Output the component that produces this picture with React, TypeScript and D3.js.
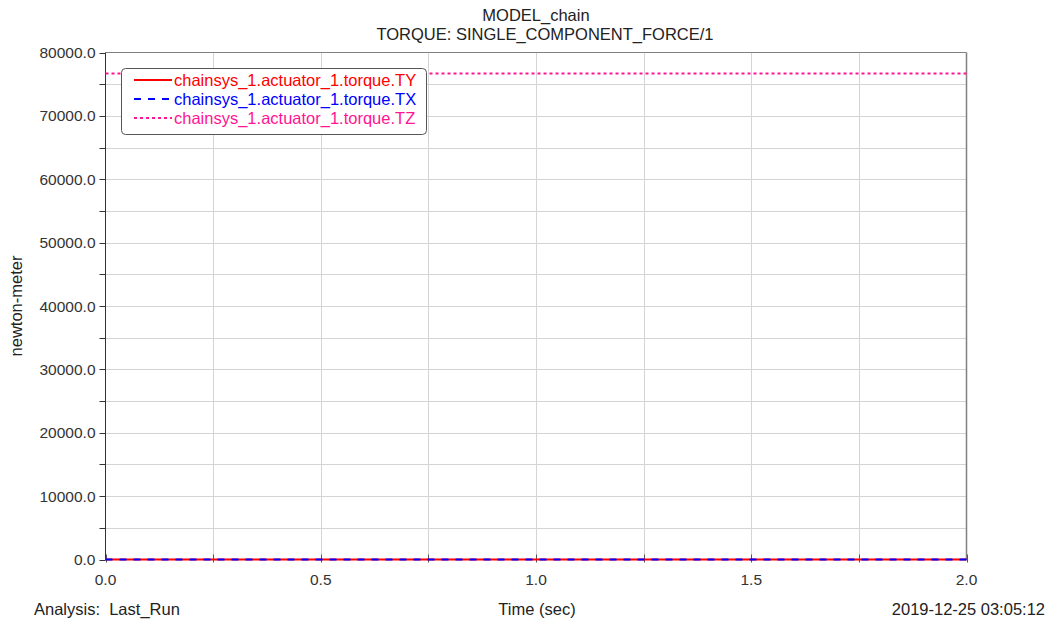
import React, { useEffect, useRef } from "react";
import * as d3 from "d3";

// time samples (sec) and torque components (newton-meter)
const times = [0, 0.25, 0.5, 0.75, 1.0, 1.25, 1.5, 1.75, 2.0];
const torqueTY = [0, 0, 0, 0, 0, 0, 0, 0, 0];
const torqueTX = [0, 0, 0, 0, 0, 0, 0, 0, 0];
const torqueTZ = [76700, 76700, 76700, 76700, 76700, 76700, 76700, 76700, 76700];

const seriesNames = [
  "chainsys_1.actuator_1.torque.TY",
  "chainsys_1.actuator_1.torque.TX",
  "chainsys_1.actuator_1.torque.TZ",
];
const yTickValues = [0, 10000, 20000, 30000, 40000, 50000, 60000, 70000, 80000];
const xTickValues = [0, 0.5, 1.0, 1.5, 2.0];

const W = 1048;
const H = 622;
const FONT = "'Liberation Sans', Arial, sans-serif";
const TXT = 16.5;

const App = () => {
  const svgRef = useRef<SVGSVGElement>(null);

  useEffect(() => {
    const svg = d3.select(svgRef.current);
    svg.selectAll("*").remove();

    const left = 105.5, right = 966.5, top = 52.5, bottom = 559.5;

    const x = d3.scaleLinear().domain([0, 2]).range([left, right]);
    const y = d3.scaleLinear().domain([0, 80000]).range([bottom, top]);

    const g = svg.append("g");

    // grid
    g.selectAll(".hgrid")
      .data(d3.range(5000, 80000, 5000))
      .join("line")
      .attr("x1", left).attr("x2", right)
      .attr("y1", d => Math.round(y(d)) + 0.5).attr("y2", d => Math.round(y(d)) + 0.5)
      .attr("stroke", "#d4d4d4").attr("stroke-width", 1);
    g.selectAll(".vgrid")
      .data(d3.range(0.25, 2, 0.25))
      .join("line")
      .attr("x1", d => Math.round(x(d)) + 0.5).attr("x2", d => Math.round(x(d)) + 0.5)
      .attr("y1", top).attr("y2", bottom)
      .attr("stroke", "#d4d4d4").attr("stroke-width", 1);

    // frame: top and right
    g.append("line").attr("x1", left).attr("x2", right).attr("y1", top).attr("y2", top)
      .attr("stroke", "#808080");
    g.append("line").attr("x1", right).attr("x2", right).attr("y1", top).attr("y2", bottom)
      .attr("stroke", "#808080").attr("stroke-width", 1.5);

    // left axis
    g.append("line").attr("x1", left).attr("x2", left).attr("y1", top).attr("y2", bottom)
      .attr("stroke", "#333");
    g.selectAll(".ytick")
      .data(d3.range(0, 80001, 5000))
      .join("line")
      .attr("x1", left - 6).attr("x2", left)
      .attr("y1", d => Math.round(y(d)) + 0.5).attr("y2", d => Math.round(y(d)) + 0.5)
      .attr("stroke", "#333");
    g.selectAll(".ylab")
      .data(yTickValues)
      .join("text")
      .attr("x", left - 10)
      .attr("y", d => y(d) + 5.5)
      .attr("text-anchor", "end")
      .attr("font-family", FONT).attr("font-size", 15.5).attr("fill", "#333")
      .text(d => d3.format(".1f")(d));

    // bottom axis
    g.append("line").attr("x1", left).attr("x2", right).attr("y1", bottom).attr("y2", bottom)
      .attr("stroke", "#333");
    g.selectAll(".xtick")
      .data(d3.range(0, 2.01, 0.25))
      .join("line")
      .attr("x1", d => Math.round(x(d)) + 0.5).attr("x2", d => Math.round(x(d)) + 0.5)
      .attr("y1", bottom - 5).attr("y2", bottom + 3)
      .attr("stroke", "#555");
    g.selectAll(".xlab")
      .data(xTickValues)
      .join("text")
      .attr("x", d => x(d))
      .attr("y", bottom + 25)
      .attr("text-anchor", "middle")
      .attr("font-family", FONT).attr("font-size", 15.5).attr("fill", "#333")
      .text(d => d3.format(".1f")(d));

    // series
    const line = (vals: number[]) =>
      d3.line<number>().x((_, i) => x(times[i])).y(v => y(v))(vals);

    g.append("path").attr("d", line(torqueTY)).attr("fill", "none")
      .attr("stroke", "#ff0000").attr("stroke-width", 2);
    g.append("path").attr("d", line(torqueTX)).attr("fill", "none")
      .attr("stroke", "#0000ff").attr("stroke-width", 2).attr("stroke-dasharray", "7 7");
    g.append("path").attr("d", line(torqueTZ)).attr("fill", "none")
      .attr("stroke", "#ff1493").attr("stroke-width", 2).attr("stroke-dasharray", "3 3");

    // legend
    const legend = g.append("g");
    legend.append("rect")
      .attr("x", 121.5).attr("y", 68.5).attr("width", 305).attr("height", 66)
      .attr("rx", 4).attr("fill", "white").attr("stroke", "#555").attr("stroke-width", 1);
    const legendColors = ["#ff0000", "#0000ff", "#ff1493"];
    const legendDash = ["none", "7 7", "3 3"];
    seriesNames.forEach((name, i) => {
      const ly = 80 + i * 19;
      legend.append("line")
        .attr("x1", 134).attr("x2", 172).attr("y1", ly).attr("y2", ly)
        .attr("stroke", legendColors[i]).attr("stroke-width", 2)
        .attr("stroke-dasharray", legendDash[i]);
      legend.append("text")
        .attr("x", 174).attr("y", ly + 6)
        .attr("font-family", FONT).attr("font-size", TXT).attr("fill", legendColors[i])
        .text(name);
    });

    // titles
    svg.append("text").attr("x", 536).attr("y", 21).attr("text-anchor", "middle")
      .attr("font-family", FONT).attr("font-size", TXT).attr("fill", "#222").text("MODEL_chain");
    svg.append("text").attr("x", 545).attr("y", 40).attr("text-anchor", "middle")
      .attr("font-family", FONT).attr("font-size", TXT).attr("fill", "#222")
      .text("TORQUE: SINGLE_COMPONENT_FORCE/1");

    // axis titles and footer
    svg.append("text")
      .attr("transform", `translate(22,${(top + bottom) / 2}) rotate(-90)`)
      .attr("text-anchor", "middle")
      .attr("font-family", FONT).attr("font-size", TXT).attr("fill", "#222")
      .text("newton-meter");
    svg.append("text").attr("x", 34).attr("y", 615)
      .attr("font-family", FONT).attr("font-size", TXT).attr("fill", "#222")
      .text("Analysis:  Last_Run").style("white-space", "pre");
    svg.append("text").attr("x", 537).attr("y", 615).attr("text-anchor", "middle")
      .attr("font-family", FONT).attr("font-size", TXT).attr("fill", "#222")
      .text("Time (sec)");
    svg.append("text").attr("x", 1045).attr("y", 615).attr("text-anchor", "end")
      .attr("font-family", FONT).attr("font-size", TXT).attr("fill", "#222")
      .text("2019-12-25 03:05:12");
  }, []);

  return (
    <svg
      ref={svgRef}
      width={W}
      height={H}
      style={{ position: "absolute", left: 0, top: 0, background: "white" }}
    />
  );
};

export default App;
